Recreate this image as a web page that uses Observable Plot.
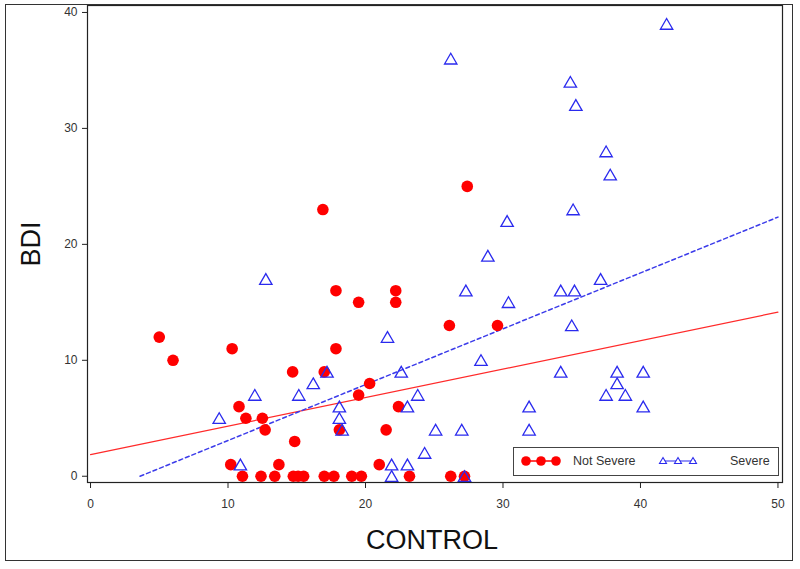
<!DOCTYPE html>
<html>
<head>
<meta charset="utf-8">
<script src="https://cdn.jsdelivr.net/npm/d3@7"></script>
<script src="https://cdn.jsdelivr.net/npm/@observablehq/plot@0.6"></script>
<style>
  html, body { margin: 0; padding: 0; background: #fff; }
  #wrap { position: relative; width: 800px; height: 569px; overflow: hidden; font-family: "Liberation Sans", Arial, sans-serif; }
  #outer { position: absolute; left: 5px; top: 4px; width: 788px; height: 557px; border: 1px solid #333; box-sizing: border-box; pointer-events: none; }
  .ytitle { position: absolute; left: 31px; top: 244px; transform: translate(-50%, -50%) rotate(-90deg); font-size: 27px; color: #111; white-space: nowrap; }
  .xtitle { position: absolute; left: 432px; top: 540px; transform: translate(-50%, -50%); font-size: 27px; color: #111; white-space: nowrap; }
  #legend { position: absolute; left: 513px; top: 447px; width: 266px; height: 29px; border: 1.5px solid #444; box-sizing: border-box; background: #fff; font-size: 12.5px; color: #333; }
  #legend .item { position: absolute; top: 0; height: 26px; display: flex; align-items: center; }
  #legend svg { display: block; }
</style>
</head>
<body>
<div id="wrap">
  <div id="chart"></div>
  <div class="ytitle">BDI</div>
  <div class="xtitle">CONTROL</div>
  <div id="legend"></div>
  <div id="outer"></div>
</div>
<script>
// ---- Data ----
const notSevereControl = [5.0, 6.0, 10.3, 10.2, 10.8, 11.3, 12.5, 12.7, 13.7, 14.7, 14.85, 16.9, 17.0, 17.85, 17.85, 18.1, 19.5, 19.5, 20.3, 21.0, 21.5, 22.2, 22.2, 22.4, 26.1, 27.4, 29.6,
  11.05, 12.4, 13.4, 14.75, 15.1, 15.5, 17.0, 17.7, 19.0, 19.7, 23.2, 26.2, 27.2];
const notSevereBDI = [12, 10, 11, 1, 6, 5, 5, 4, 1, 9, 3, 23, 9, 16, 11, 4, 15, 7, 8, 1, 4, 16, 15, 6, 13, 25, 13,
  0, 0, 0, 0, 0, 0, 0, 0, 0, 0, 0, 0, 0];

const severeControl = [41.9, 26.2, 34.9, 35.3, 37.5, 37.8, 35.1, 30.3, 28.9, 12.75, 37.1, 27.3, 34.2, 35.2, 30.4, 35.0, 21.6, 28.4,
  17.2, 22.6, 34.2, 38.3, 40.2, 16.2, 38.3, 11.95, 15.15, 23.8, 37.5, 38.9, 9.36, 18.1, 23.05, 31.9, 40.2, 18.1, 18.3, 25.1, 27.0, 31.9,
  24.3, 10.9, 21.9, 23.05, 21.9, 27.2];
const severeBDI = [39, 36, 34, 32, 28, 26, 23, 22, 19, 17, 17, 16, 16, 16, 15, 13, 12, 10,
  9, 9, 9, 9, 9, 8, 8, 7, 7, 7, 7, 7, 5, 6, 6, 6, 6, 5, 4, 4, 4, 4,
  2, 1, 1, 1, 0, 0];

// fitted regression line end points (as drawn in the reference)
const notSevereFitControl = [0, 50];
const notSevereFitBDI = [1.87, 14.15];
const severeFitControl = [3.6, 50];
const severeFitBDI = [0, 22.35];

const xTicks = [0, 10, 20, 30, 40, 50];
const yTicks = [0, 10, 20, 30, 40];
const legendLabels = ["Not Severe", "Severe"];

// ---- Build tables ----
const notSevere = notSevereControl.map((c, i) => ({control: c, bdi: notSevereBDI[i]}));
const severe = severeControl.map((c, i) => ({control: c, bdi: severeBDI[i]}));
const nsFit = notSevereFitControl.map((c, i) => ({control: c, bdi: notSevereFitBDI[i]}));
const sFit = severeFitControl.map((c, i) => ({control: c, bdi: severeFitBDI[i]}));

const RED = "#ff0000";
const BLUE = "#2a2aee";

const chart = Plot.plot({
  width: 800,
  height: 569,
  marginLeft: 87,
  marginRight: 18,
  marginTop: 5,
  marginBottom: 87,
  style: {fontFamily: "'Liberation Sans', Arial, sans-serif", background: "transparent", color: "#333"},
  x: {domain: [-0.22, 50.33]},
  y: {domain: [-0.54, 40.6]},
  marks: [
    Plot.line(nsFit, {x: "control", y: "bdi", stroke: "#ff2a2a", strokeWidth: 1.2}),
    Plot.line(sFit, {x: "control", y: "bdi", stroke: "#3c3cea", strokeWidth: 1.5, strokeDasharray: "4,3"}),
    Plot.dot(notSevere, {x: "control", y: "bdi", r: 5.8, fill: RED, stroke: "none"}),
    Plot.dot(severe, {x: "control", y: "bdi", r: 4.6, symbol: "triangle", stroke: BLUE, strokeWidth: 1.3, fill: "none", dy: 1.6}),
    Plot.axisX({ticks: xTicks, tickSize: 6, tickPadding: 11, fontSize: 12, label: null, stroke: "#222", color: "#333"}),
    Plot.axisY({ticks: yTicks, tickSize: 5, tickPadding: 5, fontSize: 12, label: null, stroke: "#222", color: "#333"}),
    Plot.frame({stroke: "#222", strokeWidth: 1.2})
  ]
});
document.getElementById("chart").appendChild(chart);

// ---- Legend ----
const legend = document.getElementById("legend");
function swatch(kind) {
  const ns = "http://www.w3.org/2000/svg";
  const s = document.createElementNS(ns, "svg");
  s.setAttribute("width", 42); s.setAttribute("height", 14);
  const ln = document.createElementNS(ns, "line");
  ln.setAttribute("x1", 4); ln.setAttribute("x2", 38); ln.setAttribute("y1", 7); ln.setAttribute("y2", 7);
  ln.setAttribute("stroke", kind === 0 ? RED : BLUE); ln.setAttribute("stroke-width", kind === 0 ? 1.5 : 1.2);
  s.appendChild(ln);
  [5, 20, 35].forEach(cx => {
    if (kind === 0) {
      const c = document.createElementNS(ns, "circle");
      c.setAttribute("cx", cx); c.setAttribute("cy", 7); c.setAttribute("r", 4.8); c.setAttribute("fill", RED);
      s.appendChild(c);
    } else {
      const p = document.createElementNS(ns, "path");
      p.setAttribute("d", `M${cx},3.5 L${cx + 3.5},9.5 L${cx - 3.5},9.5 Z`);
      p.setAttribute("fill", "#fff"); p.setAttribute("stroke", BLUE); p.setAttribute("stroke-width", 1.1);
      s.appendChild(p);
    }
  });
  return s;
}
const items = [
  {sw: 0, swLeft: 7, text: legendLabels[0], textLeft: 59},
  {sw: 1, swLeft: 144, text: legendLabels[1], textLeft: 216}
];
items.forEach(it => {
  const a = document.createElement("div"); a.className = "item"; a.style.left = it.swLeft + "px";
  a.appendChild(swatch(it.sw)); legend.appendChild(a);
  const b = document.createElement("div"); b.className = "item"; b.style.left = it.textLeft + "px";
  b.textContent = it.text; legend.appendChild(b);
});
</script>
</body>
</html>
